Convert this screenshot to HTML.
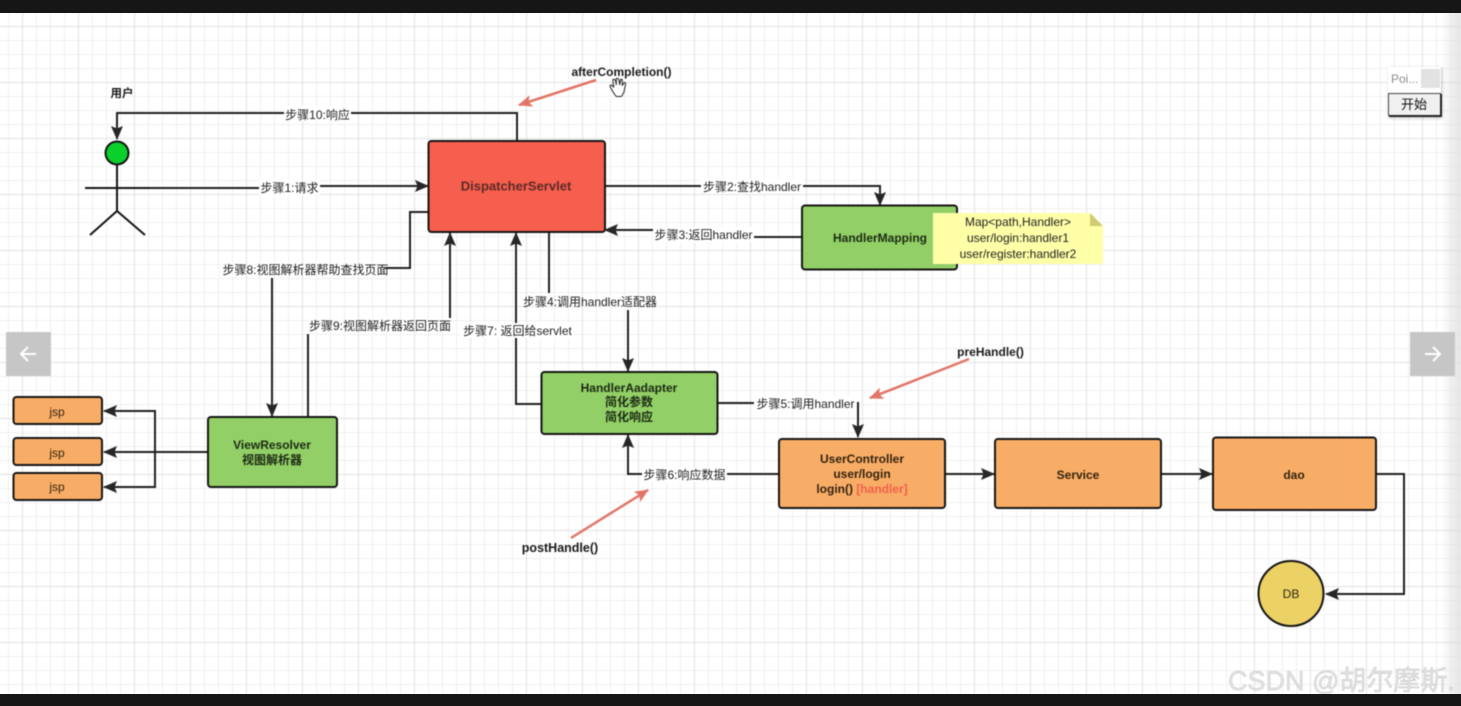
<!DOCTYPE html>
<html>
<head>
<meta charset="utf-8">
<style>
html,body{margin:0;padding:0;width:1461px;height:706px;overflow:hidden;background:#fff}
svg{display:block;position:absolute;left:0;top:0;filter:blur(0.4px)}
.bar{position:absolute;left:0;width:1461px;background:#161616}
text{font-family:"Liberation Sans","Noto Sans CJK SC",sans-serif}
.l{font-size:12px;fill:#1f1f1f;text-anchor:middle}
.b{font-size:12px;font-weight:bold;fill:#1c2a14;text-anchor:middle}
.o{font-size:12px;font-weight:bold;fill:#33220f;text-anchor:middle}
.t{font-size:12px;font-weight:bold;fill:#1a1a1a;text-anchor:middle}
.c{fill:none;stroke:#202020;stroke-width:2}
.box{stroke:#151515;stroke-width:2}
</style>
</head>
<body>
<svg width="1461" height="706" viewBox="0 0 1461 706" xmlns="http://www.w3.org/2000/svg">
<defs>
<pattern id="minor" width="14" height="14" patternUnits="userSpaceOnUse" x="8" y="12">
<path d="M0.5 0V14M0 0.5H14" fill="none" stroke="#f0f0f0" stroke-width="1"/>
</pattern>
<pattern id="major" width="56" height="56" patternUnits="userSpaceOnUse" x="22" y="26">
<path d="M0.5 0V56M0 0.5H56" fill="none" stroke="#e2e2e2" stroke-width="1"/>
</pattern>
<marker id="a" viewBox="0 0 14 12" refX="13" refY="6" markerWidth="14" markerHeight="12" markerUnits="userSpaceOnUse" orient="auto">
<path d="M0 0L14 6L0 12L2.500 6Z" fill="#262626"/>
</marker>
<marker id="p" viewBox="0 0 14 12" refX="13" refY="6" markerWidth="14" markerHeight="12" markerUnits="userSpaceOnUse" orient="auto">
<path d="M0 0L14 6L0 12L3 6Z" fill="#e27568"/>
</marker>
<linearGradient id="edge" x1="0" x2="1" y1="0" y2="0">
<stop offset="0" stop-color="#dcdcdc" stop-opacity="0"/>
<stop offset="1" stop-color="#dcdcdc" stop-opacity="0.8"/>
</linearGradient>
<filter id="sh" x="-20%" y="-20%" width="140%" height="140%">
<feDropShadow dx="1" dy="1" stdDeviation="1.500" flood-color="#000" flood-opacity="0.25"/>
</filter>
</defs>

<rect width="1461" height="706" fill="#fff"/>
<rect width="1461" height="706" fill="url(#minor)"/>
<rect width="1461" height="706" fill="url(#major)"/>
<rect x="1441" y="13" width="20" height="681" fill="url(#edge)"/>

<!-- connectors -->
<path class="c" d="M517 141V113H117V139" marker-end="url(#a)"/>
<path class="c" d="M150 188H260V186H428" marker-end="url(#a)"/>
<path class="c" d="M605 186H880V205" marker-end="url(#a)"/>
<path class="c" d="M802 237H714V230H605" marker-end="url(#a)"/>
<path class="c" d="M549 232V293"/>
<path class="c" d="M628 310V371" marker-end="url(#a)"/>
<path class="c" d="M541 404H516V233" marker-end="url(#a)"/>
<path class="c" d="M717 403H858V437" marker-end="url(#a)"/>
<path class="c" d="M779 474H628V435" marker-end="url(#a)"/>
<path class="c" d="M945 474H994" marker-end="url(#a)"/>
<path class="c" d="M1161 474H1212" marker-end="url(#a)"/>
<path class="c" d="M1376 474H1404V594H1326" marker-end="url(#a)"/>
<path class="c" d="M428 212H410V268H385"/>
<path class="c" d="M272 278V416" marker-end="url(#a)"/>
<path class="c" d="M308 416V334"/>
<path class="c" d="M450 318V233" marker-end="url(#a)"/>
<path class="c" d="M208 452H104" marker-end="url(#a)"/>
<path class="c" d="M155 452V411H104" marker-end="url(#a)"/>
<path class="c" d="M155 452V487H104" marker-end="url(#a)"/>

<!-- pink arrows -->
<path d="M596 80L519 105" stroke="#e27568" stroke-width="2.500" fill="none" marker-end="url(#p)"/>
<path d="M969 359L870 398" stroke="#e27568" stroke-width="2.500" fill="none" marker-end="url(#p)"/>
<path d="M571 538L648 490" stroke="#e27568" stroke-width="2.500" fill="none" marker-end="url(#p)"/>

<!-- actor -->
<g fill="none" stroke="#151515" stroke-width="2">
<path d="M117 165V211M85 188H150M117 211L90 235M117 211L145 235"/>
<circle cx="117" cy="153" r="11.500" fill="#0bcf2b"/>
</g>
<text x="122" y="97" class="t" style="font-size:11.500px">用户</text>

<!-- boxes -->
<rect class="box" x="428.500" y="141" width="176.500" height="91" rx="3" fill="#f65e4d"/>
<text x="516" y="190.500" class="o" style="font-size:13px;fill:#5b2b26">DispatcherServlet</text>

<rect class="box" x="802" y="205.500" width="155" height="64" rx="3" fill="#92cf66"/>
<text x="880" y="242" class="b">HandlerMapping</text>

<path d="M933 213H1090L1103 226V264H933Z" fill="#ffffa8"/>
<path d="M1090 213L1103 226H1090Z" fill="#cfcb72"/>
<text x="1018" y="226" class="l">Map&lt;path,Handler&gt;</text>
<text x="1018" y="242" class="l">user/login:handler1</text>
<text x="1018" y="258" class="l">user/register:handler2</text>

<rect class="box" x="541.500" y="372" width="176" height="62" rx="3" fill="#92cf66"/>
<text x="629" y="392" class="b">HandlerAadapter</text>
<text x="629" y="406" class="b">简化参数</text>
<text x="629" y="421" class="b">简化响应</text>

<rect class="box" x="779" y="439" width="166" height="69" rx="3" fill="#f8ad66"/>
<text x="862" y="463" class="o">UserController</text>
<text x="862" y="478" class="o">user/login</text>
<text x="862" y="493" class="o">login() <tspan fill="#f0604c">[handler]</tspan></text>

<rect class="box" x="995" y="439" width="166" height="69" rx="3" fill="#f8ad66"/>
<text x="1078" y="479" class="o">Service</text>

<rect class="box" x="1213" y="437.500" width="163" height="72.500" rx="3" fill="#f8ad66"/>
<text x="1294" y="479" class="o">dao</text>

<circle cx="1291" cy="593.500" r="32.500" fill="#ecd164" stroke="#151515" stroke-width="2"/>
<text x="1291" y="598" class="l" style="fill:#2c2716">DB</text>

<rect class="box" x="208" y="417" width="129" height="70" rx="3" fill="#92cf66"/>
<text x="272" y="449" class="b">ViewResolver</text>
<text x="272" y="464" class="b">视图解析器</text>

<rect class="box" x="13.500" y="397" width="88.500" height="27" rx="3" fill="#f8ad66"/>
<text x="57" y="416" class="o" style="font-weight:normal">jsp</text>
<rect class="box" x="13.500" y="438" width="88.500" height="27" rx="3" fill="#f8ad66"/>
<text x="57" y="457" class="o" style="font-weight:normal">jsp</text>
<rect class="box" x="13.500" y="473" width="88.500" height="27" rx="3" fill="#f8ad66"/>
<text x="57" y="491" class="o" style="font-weight:normal">jsp</text>

<!-- labels -->
<g fill="#fff">
<rect x="284" y="106" width="67" height="15"/>
<rect x="259" y="180" width="61" height="15"/>
<rect x="701" y="179" width="102" height="15"/>
<rect x="653" y="227" width="101" height="15"/>
<rect x="754" y="396" width="103" height="15"/>
<rect x="642" y="467" width="85" height="15"/>
<rect x="461" y="323" width="113" height="15"/>
</g>
<text x="317.500" y="119" class="l">步骤10:响应</text>
<text x="289.500" y="192" class="l">步骤1:请求</text>
<text x="752" y="191" class="l">步骤2:查找handler</text>
<text x="703.500" y="239" class="l">步骤3:返回handler</text>
<text x="590" y="306" class="l">步骤4:调用handler适配器</text>
<text x="805.500" y="408" class="l">步骤5:调用handler</text>
<text x="684.500" y="479" class="l">步骤6:响应数据</text>
<text x="517.500" y="335" class="l">步骤7: 返回给servlet</text>
<text x="305.500" y="274" class="l">步骤8:视图解析器帮助查找页面</text>
<text x="380" y="330" class="l">步骤9:视图解析器返回页面</text>

<text x="621.500" y="76" class="t">afterCompletion()</text>
<text x="990.500" y="356" class="t">preHandle()</text>
<text x="560" y="552" class="t" style="font-size:12.500px">postHandle()</text>

<!-- hand cursor -->
<path transform="translate(0 3) translate(618 85) scale(0.85) translate(-618 -85)" d="M613 91L609 84C608 82 610 81 611 82L613 84L612 76C612 74 614 74 615 76L616 81L616 75C616 73 618 73 619 75L620 81L621 76C621 74 623 74 623 76L623 82L625 79C626 78 627 79 627 80L625 90L622 95H616Z" fill="#fff" stroke="#222" stroke-width="1.200" stroke-linejoin="round"/>

<!-- nav buttons -->
<rect x="6" y="332" width="45" height="44" fill="#c6c6c6"/>
<path d="M36 354H22M28 347L21 354L28 361" fill="none" stroke="#fff" stroke-width="2"/>
<rect x="1410" y="332" width="45" height="44" fill="#c6c6c6"/>
<path d="M1425 354H1439M1433 347L1440 354L1433 361" fill="none" stroke="#fff" stroke-width="2"/>

<!-- popup -->
<rect x="1388" y="67" width="53" height="50" fill="#fff" filter="url(#sh)"/>
<text x="1391" y="83" style="font-size:12px;fill:#8c8c8c">Poi...</text>
<rect x="1421" y="69" width="19" height="19" fill="#e2e2e2"/>
<rect x="1388.500" y="93.500" width="52" height="22" fill="#f0f0f0" stroke="#444" stroke-width="1"/>
<path d="M1389 116H1441V94" fill="none" stroke="#222" stroke-width="2"/>
<text x="1414" y="109" style="font-size:13px;fill:#111;text-anchor:middle">开始</text>

<!-- watermark -->
<text x="1228" y="690" style="font-size:27px;fill:#e2e2e2;stroke:#c4c4c4;stroke-width:0.400px">CSDN @胡尔摩斯.</text>
</svg>
<div class="bar" style="top:0;height:13px"></div>
<div class="bar" style="top:694px;height:12px"></div>
</body>
</html>
